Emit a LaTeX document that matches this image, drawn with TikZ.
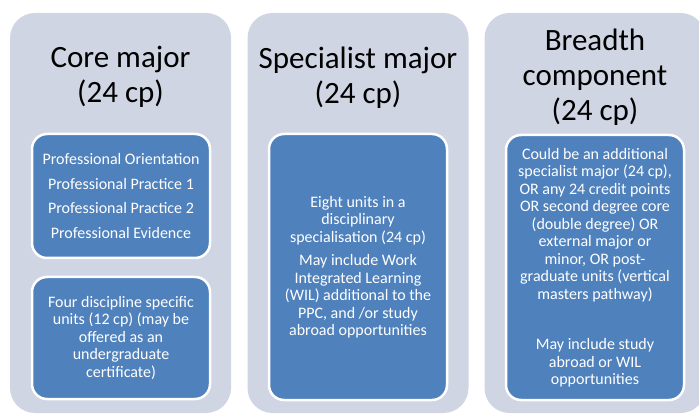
\documentclass[tikz,border=0pt]{standalone}
\usepackage{fontspec}
\setmainfont{Carlito}
\usetikzlibrary{positioning}
\definecolor{PanelGrey}{HTML}{CFD5E3}
\definecolor{UnitBlue}{HTML}{4F81BD}

\begin{document}
\begin{tikzpicture}[
  x=1pt,
  y=-1pt,
  panel/.style={rectangle,rounded corners=25pt,fill=PanelGrey,draw=none,
    minimum width=221pt,minimum height=400pt,inner sep=0pt},
  heading/.style={align=center,font=\fontsize{31}{35}\selectfont,text=black},
  unit/.style={rectangle,rounded corners=15pt,fill=UnitBlue,draw=white,
    line width=2.5pt,minimum width=178pt,align=center,text=white,
    font=\fontsize{16}{17.5}\selectfont,inner sep=4pt}
]
  \useasboundingbox (0,0) rectangle (699,414);

  \node[panel] (core) at (120.5,213) {};
  \node[panel] (spec) at (358,213) {};
  \node[panel] (breadth) at (595,213) {};

  \node[heading] (coretitle) at (120.5,77) {Core major\\(24 cp)};
  \node[heading] (spectitle) at (358,78) {Specialist major\\(24 cp)};
  \node[heading] (breadthtitle) at (595,77.5) {Breadth\\component\\(24 cp)};

  \node[unit,minimum height=124pt] (coreunits) at (121,196)
    {Professional Orientation\\[7pt]Professional Practice 1\\[7pt]Professional Practice 2\\[7pt]Professional Evidence};
  \node[unit,minimum height=122pt] (coredisc) at (121,338)
    {Four discipline specific\\units (12 cp) (may be\\offered as an\\undergraduate\\certificate)};
  \node[unit,minimum height=266pt] (specunits) at (358,267)
    {Eight units in a\\disciplinary\\specialisation (24 cp)\\[6pt]May include Work\\Integrated Learning\\(WIL) additional to the\\PPC, and /or study\\abroad opportunities};
  \node[unit,minimum height=265pt] (breadthunits) at (595,267.5)
    {Could be an additional\\specialist major (24 cp),\\OR any 24 credit points\\OR second degree core\\(double degree) OR\\external major or\\minor, OR post-\\graduate units (vertical\\masters pathway)\\[33pt]May include study\\abroad or WIL\\opportunities};
\end{tikzpicture}
\end{document}
